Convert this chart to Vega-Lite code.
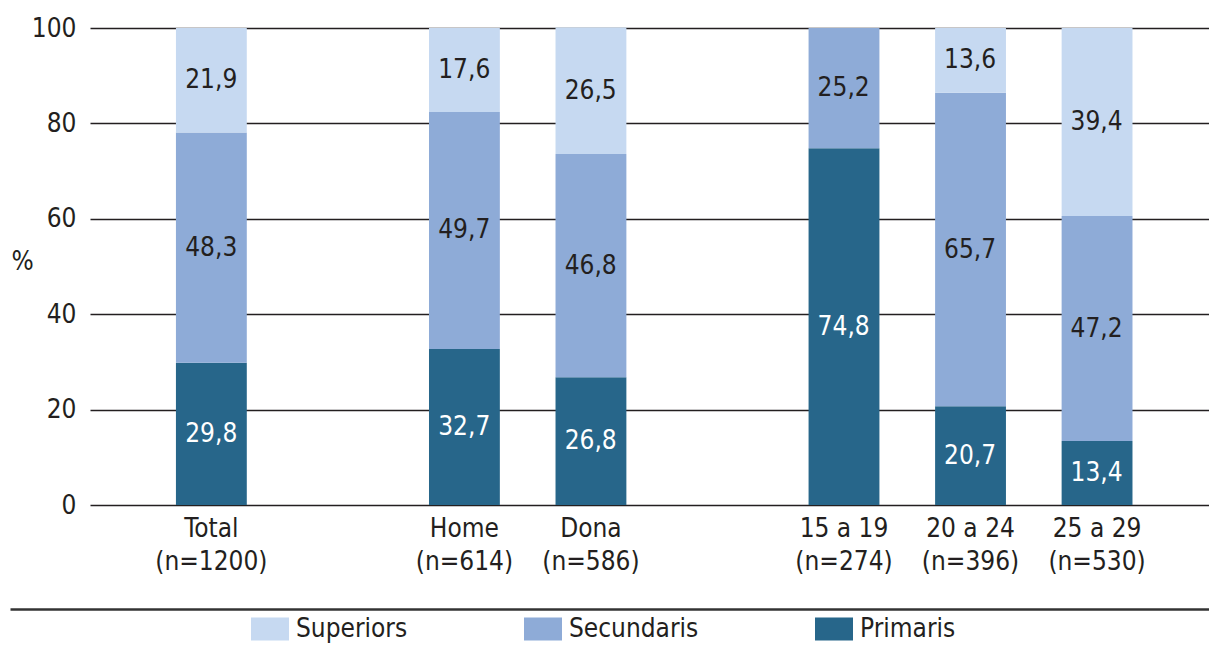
{
  "$schema": "https://vega.github.io/schema/vega-lite/v6.json",
  "autosize": "none",
  "width": 1119,
  "height": 477,
  "padding": {"left": 90, "top": 28, "right": 0, "bottom": 143},
  "background": "white",
  "config": {
    "view": {"stroke": null},
    "font": "DejaVu Sans Condensed, sans-serif",
    "text": {"font": "DejaVu Sans Condensed, sans-serif"}
  },
  "data": {
    "values": [
      {"group": "Total|(n=1200)", "level": "Primaris", "value": 29.8},
      {"group": "Total|(n=1200)", "level": "Secundaris", "value": 48.3},
      {"group": "Total|(n=1200)", "level": "Superiors", "value": 21.9},
      {"group": "Home|(n=614)", "level": "Primaris", "value": 32.7},
      {"group": "Home|(n=614)", "level": "Secundaris", "value": 49.7},
      {"group": "Home|(n=614)", "level": "Superiors", "value": 17.6},
      {"group": "Dona|(n=586)", "level": "Primaris", "value": 26.8},
      {"group": "Dona|(n=586)", "level": "Secundaris", "value": 46.8},
      {"group": "Dona|(n=586)", "level": "Superiors", "value": 26.5},
      {"group": "15 a 19|(n=274)", "level": "Primaris", "value": 74.8},
      {"group": "15 a 19|(n=274)", "level": "Secundaris", "value": 25.2},
      {"group": "20 a 24|(n=396)", "level": "Primaris", "value": 20.7},
      {"group": "20 a 24|(n=396)", "level": "Secundaris", "value": 65.7},
      {"group": "20 a 24|(n=396)", "level": "Superiors", "value": 13.6},
      {"group": "25 a 29|(n=530)", "level": "Primaris", "value": 13.4},
      {"group": "25 a 29|(n=530)", "level": "Secundaris", "value": 47.2},
      {"group": "25 a 29|(n=530)", "level": "Superiors", "value": 39.4}
    ]
  },
  "transform": [
    {"stack": "value", "groupby": ["group"], "sort": [{"field": "level", "order": "ascending"}], "as": ["y0", "y1"]},
    {"calculate": "(datum.y0 + datum.y1) / 2", "as": "ymid"},
    {"calculate": "replace(format(datum.value, '.1f'), '.', ',')", "as": "lbl"}
  ],
  "resolve": {"scale": {"x": "independent"}, "axis": {"x": "independent"}},
  "layer": [
    {
      "mark": {"type": "bar"},
      "encoding": {
        "x": {
          "field": "group",
          "type": "nominal",
          "scale": {
            "type": "band",
            "domain": ["Total|(n=1200)", "_1", "Home|(n=614)", "Dona|(n=586)", "_2", "15 a 19|(n=274)", "20 a 24|(n=396)", "25 a 29|(n=530)"],
            "paddingInner": 0.44,
            "paddingOuter": 0.642,
            "align": 0.529
          },
          "axis": {
            "title": null,
            "orient": "bottom",
            "domain": false,
            "ticks": false,
            "grid": false,
            "labelAngle": 0,
            "labelPadding": 10,
            "labelFontSize": 26,
            "labelColor": "#231f20",
            "labelLineHeight": 33,
            "labelBaseline": "top",
            "labelExpr": "indexof(datum.value, '|') >= 0 ? split(datum.value, '|') : ''"
          }
        },
        "y": {
          "field": "y0",
          "type": "quantitative",
          "scale": {"domain": [0, 100], "nice": false},
          "axis": {
            "values": [0, 20, 40, 60, 80, 100],
            "domain": false,
            "ticks": false,
            "grid": true,
            "gridColor": "#231f20",
            "gridWidth": 1.3,
            "gridOpacity": 1,
            "labelFontSize": 26,
            "labelColor": "#231f20",
            "labelPadding": 14,
            "title": "%",
            "titleAngle": 0,
            "titleFontSize": 26,
            "titleFontWeight": "normal",
            "titleColor": "#231f20",
            "titleX": -68,
            "titleY": 233,
            "titleAlign": "center",
            "titleBaseline": "middle"
          }
        },
        "y2": {"field": "y1"},
        "color": {
          "field": "level",
          "type": "nominal",
          "scale": {
            "domain": ["Superiors", "Secundaris", "Primaris"],
            "range": ["#c6d9f1", "#8eabd7", "#27668a"]
          },
          "legend": {
            "title": null,
            "orient": "none",
            "legendX": 161,
            "legendY": 582,
            "padding": 0,
            "direction": "horizontal",
            "columns": 3,
            "symbolType": "M-1,-0.605H1V0.605H-1Z",
            "symbolSize": 1444,
            "symbolStrokeWidth": 0,
            "symbolOpacity": 1,
            "labelFontSize": 26,
            "labelColor": "#231f20",
            "labelOffset": 7,
            "columnPadding": 116
          }
        }
      }
    },
    {
      "mark": {"type": "text", "fontSize": 26, "baseline": "middle", "align": "center"},
      "encoding": {
        "x": {
          "field": "group",
          "type": "nominal",
          "scale": {
            "type": "band",
            "domain": ["Total|(n=1200)", "_1", "Home|(n=614)", "Dona|(n=586)", "_2", "15 a 19|(n=274)", "20 a 24|(n=396)", "25 a 29|(n=530)"],
            "range": [-80, 1119],
            "paddingInner": 0.44,
            "paddingOuter": 0.96,
            "align": 0.683
          },
          "axis": {
            "title": null,
            "orient": "bottom",
            "offset": 104,
            "domain": true,
            "domainColor": "#333333",
            "domainWidth": 2.5,
            "ticks": false,
            "grid": false,
            "labels": false
          }
        },
        "y": {"field": "ymid", "type": "quantitative"},
        "text": {"field": "lbl"},
        "color": {
          "condition": {"test": "datum.level === 'Primaris'", "value": "#ffffff"},
          "value": "#231f20"
        }
      }
    }
  ]
}
